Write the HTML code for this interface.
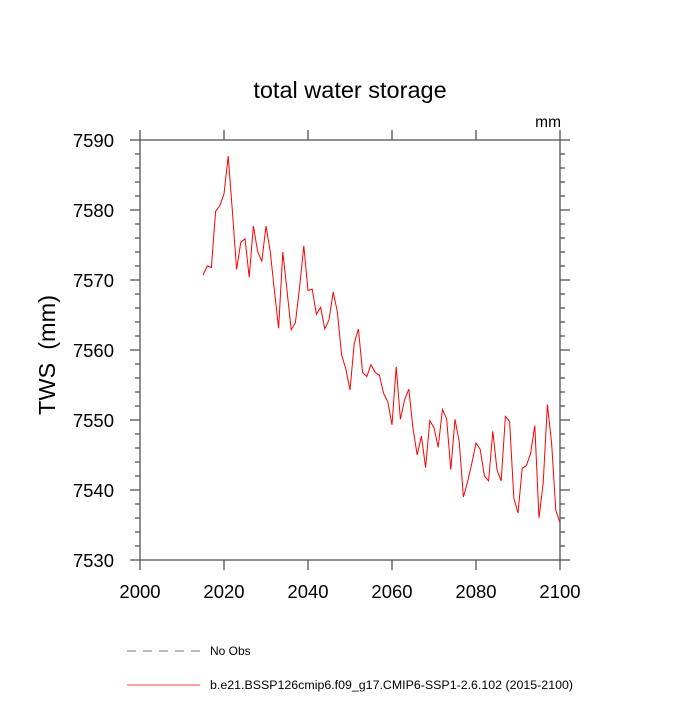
<!DOCTYPE html>
<html><head><meta charset="utf-8"><style>
body{margin:0;background:#fff}
svg text{font-family:"Liberation Sans",sans-serif;fill:#000}
</style></head><body>
<svg id="chart" width="700" height="700">
<text x="350" y="98" font-size="23.5" text-anchor="middle">total water storage</text>
<text x="561" y="127" font-size="15.5" text-anchor="end">mm</text>
<text transform="translate(55,355) rotate(-90)" font-size="23.5" text-anchor="middle" xml:space="preserve">TWS  (mm)</text>
<g id="axes"></g>
<polyline id="series" fill="none" stroke="#ff0000" stroke-width="1"/>
<line x1="127" y1="651" x2="200" y2="651" stroke="#777" stroke-dasharray="9,7"/>
<text x="210" y="655" font-size="12">No Obs</text>
<line x1="127" y1="685" x2="200" y2="685" stroke="#ff0000" stroke-width="0.8"/>
<text x="210" y="689" font-size="12.4">b.e21.BSSP126cmip6.f09_g17.CMIP6-SSP1-2.6.102 (2015-2100)</text>
</svg>
<script>
const years=[];for(let y=2015;y<=2100;y++)years.push(y);
const tws=[7570.7,7572.0,7571.8,7579.8,7580.6,7582.3,7587.7,7579.8,7571.5,7575.4,
7575.9,7570.4,7577.7,7574.1,7572.7,7577.7,7574.1,7568.5,7563.1,7574.0,
7568.5,7562.9,7563.9,7569.0,7574.9,7568.5,7568.7,7565.1,7566.1,7563.0,
7564.3,7568.3,7565.4,7559.3,7557.3,7554.3,7560.9,7563.0,7556.8,7556.2,
7557.9,7556.8,7556.4,7553.8,7552.6,7549.3,7557.6,7550.1,7552.9,7554.4,
7548.8,7545.0,7547.7,7543.2,7549.9,7548.9,7546.1,7551.5,7550.2,7542.9,
7550.1,7546.9,7539.0,7541.2,7543.8,7546.7,7545.8,7542.0,7541.3,7548.4,
7542.9,7541.3,7550.5,7549.8,7538.9,7536.7,7543.1,7543.5,7545.2,7549.2,
7536.0,7541.0,7552.2,7546.7,7537.1,7535.3];
const xTicks=[2000,2020,2040,2060,2080,2100];
const yTicks=[7530,7540,7550,7560,7570,7580,7590];
const X0=140,X1=560,Y0=140,Y1=560;
const sx=v=>X0+(v-2000)/100*(X1-X0);
const sy=v=>Y1-(v-7530)/60*(Y1-Y0);
const NS="http://www.w3.org/2000/svg";
const ax=document.getElementById('axes');
function ln(x1,y1,x2,y2,name){const l=document.createElementNS(NS,'line');
l.setAttribute('x1',x1);l.setAttribute('y1',y1);l.setAttribute('x2',x2);l.setAttribute('y2',y2);
l.setAttribute('stroke','#555');l.setAttribute('stroke-width','1.3');


ax.appendChild(l);}
const fr=document.createElementNS(NS,'rect');
fr.setAttribute('x',X0);fr.setAttribute('y',Y0);fr.setAttribute('width',X1-X0);fr.setAttribute('height',Y1-Y0);
fr.setAttribute('fill','none');fr.setAttribute('stroke','#555');fr.setAttribute('stroke-width','1.3');


ax.appendChild(fr);
xTicks.forEach(t=>{const x=sx(t);ln(x,Y1,x,Y1+10,'x-tick');ln(x,Y0,x,Y0-10,'x-tick-top');
const tx=document.createElementNS(NS,'text');tx.setAttribute('x',x);tx.setAttribute('y',Y1+38);
tx.setAttribute('font-size','18.5');tx.setAttribute('text-anchor','middle');tx.textContent=t;


ax.appendChild(tx);});
for(let v=7530;v<=7590;v+=2){const y=sy(v);const major=(v%10===0);const L=major?10:5;
ln(X0-L,y,X0,y,major?'y-tick':'y-minor-tick');ln(X1,y,X1+L,y,major?'y-tick-right':'y-minor-tick-right');}
yTicks.forEach(t=>{const tx=document.createElementNS(NS,'text');tx.setAttribute('x',X0-26);tx.setAttribute('y',sy(t)+7);
tx.setAttribute('font-size','18.5');tx.setAttribute('text-anchor','end');tx.textContent=t;


ax.appendChild(tx);});
document.getElementById('series').setAttribute('points',years.map((y,i)=>sx(y)+','+sy(tws[i])).join(' '));
</script>
</body></html>
